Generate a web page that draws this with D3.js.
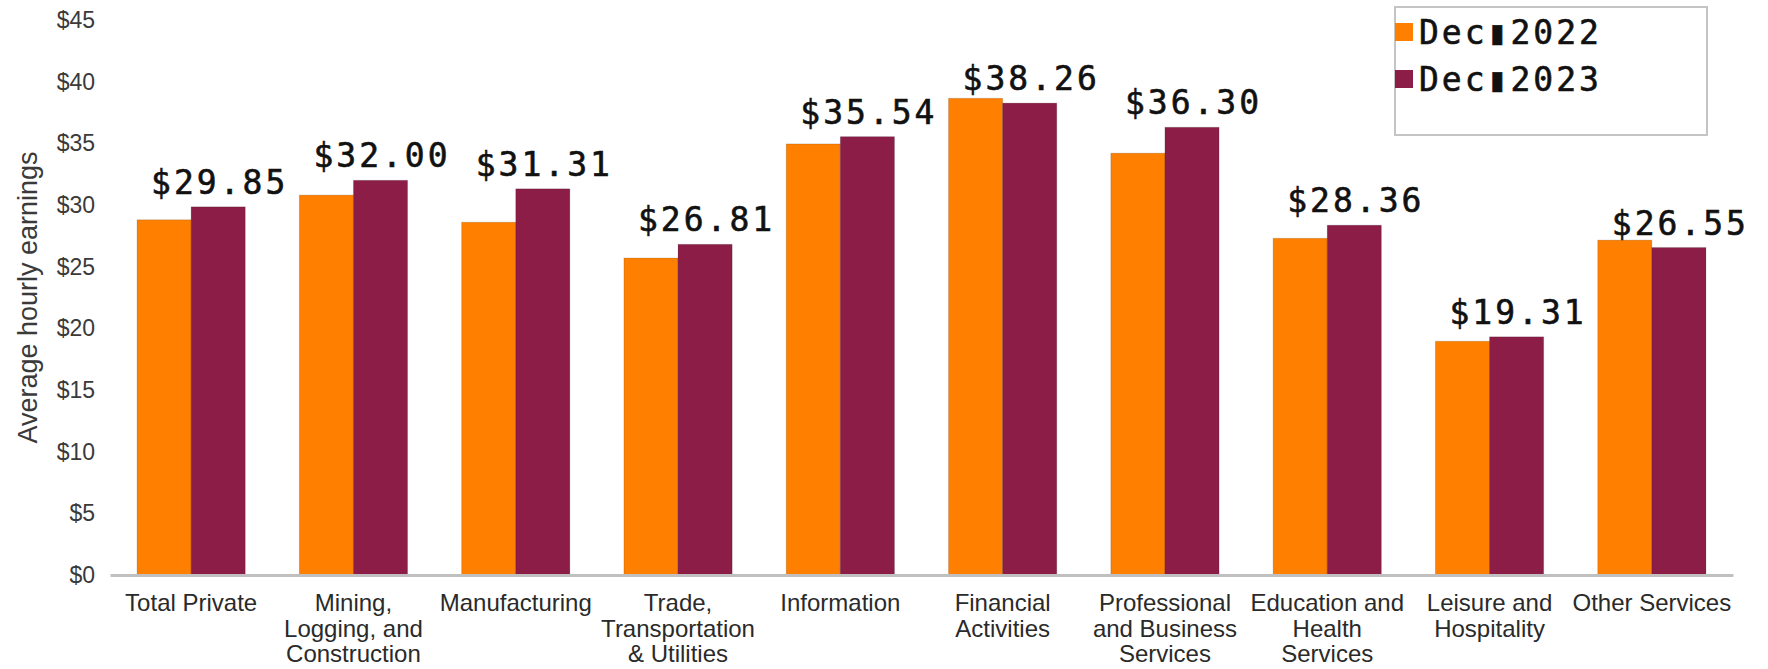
<!DOCTYPE html>
<html>
<head>
<meta charset="utf-8">
<script src="https://cdn.jsdelivr.net/npm/d3@7"></script>
<style>
  html, body { margin: 0; padding: 0; background: #fff; }
  svg { display: block; }
</style>
</head>
<body>
<svg id="chart" width="1768" height="669"></svg>
<script>
const categories = [
  "Total Private",
  "Mining,\nLogging, and\nConstruction",
  "Manufacturing",
  "Trade,\nTransportation\n& Utilities",
  "Information",
  "Financial\nActivities",
  "Professional\nand Business\nServices",
  "Education and\nHealth\nServices",
  "Leisure and\nHospitality",
  "Other Services"
];
const seriesNames = ["Dec 2022", "Dec 2023"];
const legendLabels = ["Dec\u25AE2022", "Dec\u25AE2023"];
const dec2022 = [28.80, 30.80, 28.60, 25.70, 34.95, 38.65, 34.20, 27.30, 18.95, 27.15];
const dec2023 = [29.85, 32.00, 31.31, 26.81, 35.54, 38.26, 36.30, 28.36, 19.31, 26.55];
const yTicks = [0, 5, 10, 15, 20, 25, 30, 35, 40, 45];
const colors = ["#FF8000", "#8C1D46"];

const svg = d3.select("#chart");
const margin = { left: 110, right: 1733, top: 20, bottom: 575 };

const x0 = d3.scaleBand()
  .domain(categories)
  .range([margin.left, margin.right])
  .paddingInner(1/3)
  .paddingOuter(1/6);
const x1 = d3.scaleBand()
  .domain(seriesNames)
  .range([0, x0.bandwidth()]);
const y = d3.scaleLinear().domain([0, 45]).range([margin.bottom, margin.top]);

const rows = categories.map((c, i) => ({ cat: c, vals: [dec2022[i], dec2023[i]] }));

// y axis (labels only)
const yAxis = d3.axisLeft(y).tickValues(yTicks).tickFormat(d => "$" + d).tickSize(0).tickPadding(0);
const yg = svg.append("g").attr("transform", `translate(${margin.left - 15},0)`).call(yAxis);
yg.select(".domain").remove();
yg.selectAll("text")
  .attr("font-family", "Liberation Sans, Arial, sans-serif")
  .attr("font-size", 23)
  .attr("fill", "#3a3a3a");

// y title
svg.append("text")
  .attr("transform", `translate(37,${(margin.top + margin.bottom) / 2}) rotate(-90)`)
  .attr("text-anchor", "middle")
  .attr("font-family", "Liberation Sans, Arial, sans-serif")
  .attr("font-size", 27)
  .attr("fill", "#3a3a3a")
  .text("Average hourly earnings");

// bars
const groups = svg.append("g").selectAll("g")
  .data(rows).join("g")
  .attr("transform", d => `translate(${x0(d.cat)},0)`);
groups.selectAll("rect")
  .data(d => d.vals.map((v, j) => ({ key: seriesNames[j], v, j })))
  .join("rect")
  .attr("x", d => x1(d.key))
  .attr("width", x1.bandwidth())
  .attr("y", d => y(d.v))
  .attr("height", d => y(0) - y(d.v))
  .attr("fill", d => colors[d.j])
  .attr("stroke", "rgba(0,0,0,0.15)")
  .attr("stroke-width", 1);

// x axis line
const xAxis = d3.axisBottom(x0).tickSize(0).tickFormat("");
const xg = svg.append("g").attr("transform", `translate(0,${y(0)})`).call(xAxis);
xg.select(".domain").attr("stroke", "#c0c0c0").attr("stroke-width", 3);

// category labels
const cl = svg.append("g").selectAll("text")
  .data(categories).join("text")
  .attr("x", d => x0(d) + x0.bandwidth() / 2)
  .attr("y", y(0) + 36)
  .attr("text-anchor", "middle")
  .attr("font-family", "Liberation Sans, Arial, sans-serif")
  .attr("font-size", 24)
  .attr("fill", "#2a2a2a");
cl.each(function(d) {
  const t = d3.select(this);
  d.split("\n").forEach((line, i) => {
    t.append("tspan").attr("x", t.attr("x")).attr("dy", i === 0 ? 0 : 25.5).text(line);
  });
});

// value labels (Dec 2023)
svg.append("g").selectAll("text")
  .data(rows).join("text")
  .attr("x", d => x0(d.cat) + x1(seriesNames[1]) + x1.bandwidth() / 2 + 1.5)
  .attr("y", d => y(d.vals[1]) - 13)
  .attr("text-anchor", "middle")
  .attr("font-family", "DejaVu Sans Mono, monospace")
  .attr("font-size", 33)
  .attr("letter-spacing", 3)
  .attr("fill", "#111")
  .attr("stroke", "#111")
  .attr("stroke-width", 0.6)
  .text(d => "$" + d.vals[1].toFixed(2));

// legend
const lg = svg.append("g");
lg.append("rect")
  .attr("x", 1395).attr("y", 7).attr("width", 312).attr("height", 128)
  .attr("fill", "#fff").attr("stroke", "#c4c4c4").attr("stroke-width", 2);
const li = lg.selectAll("g.item").data(seriesNames).join("g").attr("class", "item")
  .attr("transform", (d, i) => `translate(1395,${23 + i * 47})`);
li.append("rect").attr("width", 18).attr("height", 18).attr("fill", (d, i) => colors[i]);
li.append("text")
  .attr("x", 24).attr("y", 21)
  .attr("font-family", "DejaVu Sans Mono, monospace")
  .attr("font-size", 33)
  .attr("letter-spacing", 3)
  .attr("fill", "#111")
  .attr("stroke", "#111")
  .attr("stroke-width", 0.6)
  .text((d, i) => legendLabels[i]);
</script>
</body>
</html>
